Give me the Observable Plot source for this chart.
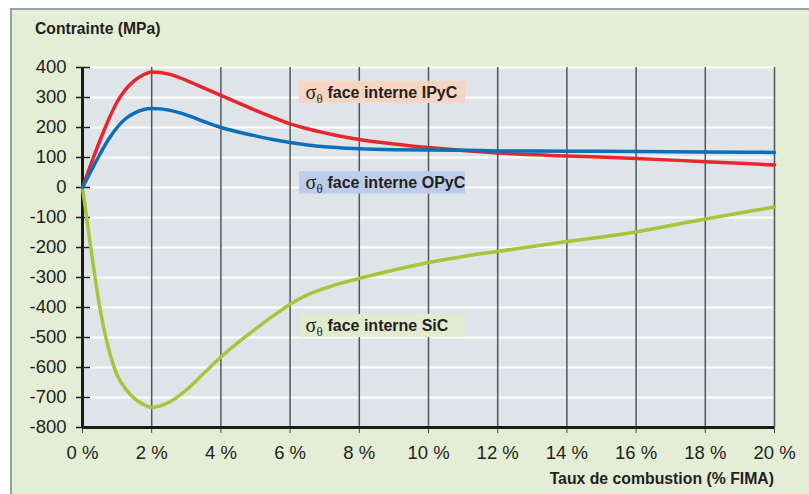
<!DOCTYPE html>
<html>
<head>
<meta charset="utf-8">
<script src="https://cdn.jsdelivr.net/npm/d3@7"></script>
<script src="https://cdn.jsdelivr.net/npm/@observablehq/plot@0.6"></script>
<style>
  body { margin: 0; background: #ffffff; }
  #wrap { position: relative; width: 809px; height: 494px; overflow: hidden; font-family: "Liberation Sans", Arial, sans-serif; }
  #bg { position: absolute; left: 10px; top: 8px; right: 0; bottom: 0; background: #e4edd5; border-top: 2px solid #97a3a3; border-left: 2px solid #97a3a3; }
  #ytitle { position: absolute; left: 35px; top: 21px; font-weight: bold; font-size: 15.7px; line-height: 15px; color: #231f20; }
  #xtitle { position: absolute; right: 35px; top: 471px; font-weight: bold; font-size: 15.8px; line-height: 15px; color: #231f20; }
  #chart { position: absolute; left: 0; top: 0; }
</style>
</head>
<body>
<div id="wrap">
  <div id="bg"></div>
  <div id="chart"></div>
  <div id="ytitle">Contrainte (MPa)</div>
  <div id="xtitle">Taux de combustion (% FIMA)</div>
</div>
<script>
// ---- Data ----
const burnup = [0, 0.25, 0.5, 0.75, 1, 1.25, 1.5, 1.75, 2, 2.5, 3, 3.5, 4, 4.5, 5, 5.5, 6, 6.5, 7, 7.5, 8, 9, 10, 11, 12, 14, 16, 18, 20];
const ipyc   = [0, 80, 155, 225, 285, 327, 356, 375, 385, 378, 357, 332, 307, 282, 257, 234, 212, 196, 182, 170, 160, 145, 133, 123, 115, 105, 97, 86, 75];
const opyc   = [0, 56, 110, 160, 200, 230, 248, 259, 263, 258, 242, 220, 200, 185, 172, 160, 150, 142, 136, 132, 129, 126, 125, 124, 122, 121, 120, 118, 117];
const sic    = [0, -210, -400, -535, -625, -672, -703, -722, -733, -716, -675, -620, -565, -516, -472, -429, -389, -358, -336, -318, -303, -275, -250, -230, -213, -180, -148, -105, -65];
const seriesNames = ["SiC", "IPyC", "OPyC"];
const yTicks = [-800, -700, -600, -500, -400, -300, -200, -100, 0, 100, 200, 300, 400];
const xTicks = [0, 2, 4, 6, 8, 10, 12, 14, 16, 18, 20];
// label boxes (data coordinates)
const labelNames = ["IPyC", "OPyC", "SiC"];
const labelX1 = [6.27, 6.27, 6.27];
const labelX2 = [11.07, 11.07, 11.07];
const labelY1 = [280, -22, -500];
const labelY2 = [354, 53, -423];

// ---- Styles ----
const lineColors = { SiC: "#a3c63b", IPyC: "#e8262d", OPyC: "#0c6fba" };
const boxColors = { IPyC: "#f8d4c2", OPyC: "#bccce9", SiC: "#e2ebcf" };

const rows = [];
const seriesValues = { IPyC: ipyc, OPyC: opyc, SiC: sic };
for (const s of seriesNames) burnup.forEach((x, i) => rows.push({ s, x, y: seriesValues[s][i] }));

const labels = labelNames.map((name, i) => ({ name, x1: labelX1[i], x2: labelX2[i], y1: labelY1[i], y2: labelY2[i], ym: (labelY1[i] + labelY2[i]) / 2 }));

const labelMarks = [];
for (const d of labels) {
  labelMarks.push(Plot.rect([d], { x1: "x1", x2: "x2", y1: "y1", y2: "y2", fill: boxColors[d.name] }));
  labelMarks.push(Plot.text([d], { x: "x1", y: "ym", text: () => "σ", textAnchor: "start", dx: 6, dy: 0, fontSize: 20, fontFamily: "'Liberation Serif', 'Times New Roman', serif", fill: "#231f20" }));
  labelMarks.push(Plot.text([d], { x: "x1", y: "ym", text: () => "θ", textAnchor: "start", dx: 17, dy: 6, fontSize: 13, fontFamily: "'Liberation Serif', 'Times New Roman', serif", fill: "#231f20" }));
  labelMarks.push(Plot.text([d], { x: "x1", y: "ym", text: (v) => "face interne " + v.name, textAnchor: "start", dx: 28, dy: 0, fontSize: 16, fontWeight: "bold", fill: "#231f20" }));
}

const chart = Plot.plot({
  width: 809,
  height: 494,
  marginLeft: 82,
  marginRight: 35,
  marginTop: 67,
  marginBottom: 67,
  x: { domain: [0, 20] },
  y: { domain: [-800, 400] },
  color: { domain: seriesNames, range: seriesNames.map((s) => lineColors[s]) },
  style: { background: "transparent", fontFamily: "'Liberation Sans', Arial, sans-serif", fontSize: "18.5px", color: "#231f20", overflow: "visible" },
  marks: [
    Plot.frame({ fill: "#dfe4e9", stroke: null }),
    Plot.ruleY(yTicks.filter((v) => v > -800), { stroke: "#ffffff", strokeWidth: 2 }),
    Plot.ruleX(xTicks.filter((v) => v > 0), { stroke: "#555555", strokeWidth: 1.5 }),
    Plot.axisX(xTicks, { tickSize: 6, tickPadding: 12, tickFormat: (d) => `${d} %`, label: null, stroke: "#444444" }),
    Plot.axisY(yTicks, { tickSize: 6, tickPadding: 10, tickFormat: (d) => String(d), label: null, stroke: "#231f20" }),
    Plot.axisY(yTicks, { tickSize: 14, dx: 8, tickFormat: () => "", label: null, stroke: "#231f20", strokeWidth: 1.5 }),
    Plot.ruleX([0], { stroke: "#1a1a1a", strokeWidth: 3 }),
    Plot.ruleY([-800], { stroke: "#1a1a1a", strokeWidth: 3 }),
    ...labelMarks,
    Plot.line(rows, { x: "x", y: "y", z: "s", stroke: "s", curve: "monotone-x", strokeWidth: 3.5 })
  ]
});
d3.select(chart).selectAll("g[aria-label*='tick label']").each(function () {
  this.setAttribute("font-size", "18.5");
  this.style.fontSize = "18.5px";
});
document.getElementById("chart").appendChild(chart);
</script>
</body>
</html>
